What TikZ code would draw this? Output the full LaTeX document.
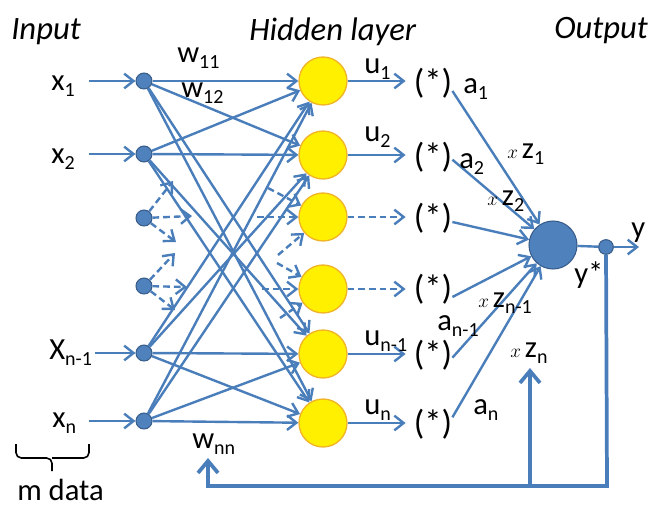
\documentclass[tikz,border=0pt]{standalone}
\usepackage{fontspec}
\setmainfont{Carlito}
\usetikzlibrary{arrows.meta,calc}
\definecolor{lblue}{RGB}{74,126,187}
\definecolor{nblue}{RGB}{79,129,189}
\definecolor{nborder}{RGB}{56,93,138}
\definecolor{yfill}{RGB}{255,240,0}
\definecolor{yborder}{RGB}{240,180,40}
\newcommand\sbs[1]{\raisebox{-5pt}{\fontsize{15}{15}\selectfont #1}}
\newcommand\smx{{\fontsize{14}{14}\selectfont$x$}\hspace{3pt}}
\begin{document}
\begin{tikzpicture}[x=0.75pt,y=-0.75pt,
  conn/.style={draw=lblue, line width=1.8pt, -{Straight Barb[length=7pt,width=11pt]}},
  dconn/.style={conn, dash pattern=on 5pt off 3pt},
  fb/.style={draw=lblue, line width=2.8pt},
  fbarrow/.style={fb, -{Straight Barb[length=9pt,width=15pt]}},
  inode/.style={circle, fill=nblue, draw=nborder, line width=0.8pt, minimum size=12pt, inner sep=0pt},
  hnode/.style={circle, fill=yfill, draw=yborder, line width=1pt, minimum size=36pt, inner sep=0pt},
  onode/.style={circle, fill=nblue, draw=nborder, line width=0.8pt, minimum size=36pt, inner sep=0pt},
  pnode/.style={circle, fill=nblue, draw=nborder, line width=0.8pt, minimum size=11pt, inner sep=0pt},
  lbl/.style={anchor=base west, inner sep=0pt, font=\fontsize{23}{25}\selectfont},
  ttl/.style={lbl, font=\fontsize{24.5}{26}\selectfont\itshape},
  star/.style={inner sep=0pt, font=\fontsize{26}{28}\selectfont}]
\useasboundingbox (0,0) rectangle (651,508);

% titles
\node[ttl] (tin) at (11,39) {Input};
\node[ttl] (thid) at (249,40) {Hidden layer};
\node[ttl] (tout) at (554,38) {Output};

% input nodes
\node[inode] (i1) at (144,81) {};
\node[inode] (i2) at (144,154) {};
\node[inode] (i3) at (144,218) {};
\node[inode] (i4) at (144,286) {};
\node[inode] (i5) at (144,353) {};
\node[inode] (i6) at (144,421) {};

% hidden nodes
\node[hnode] (h1) at (323,81) {};
\node[hnode] (h2) at (323,155) {};
\node[hnode] (h3) at (323,217) {};
\node[hnode] (h4) at (323,289) {};
\node[hnode] (h5) at (323,354) {};
\node[hnode] (h6) at (323,423) {};

% (*) nodes
\node[star] (s1) at (433,83) {(*)};
\node[star] (s2) at (433,157) {(*)};
\node[star] (s3) at (433,218) {(*)};
\node[star] (s4) at (433,289) {(*)};
\node[star] (s5) at (433,355) {(*)};
\node[star] (s6) at (433,424) {(*)};

% output
\node[onode] (o) at (553,245) {};
\node[pnode] (p) at (606,247) {};

% input labels and arrows
\node[lbl] (lx1) at (51,90) {x\sbs{1}};
\node[lbl] (lx2) at (51,163) {x\sbs{2}};
\node[lbl] (lx5) at (49,359) {X\sbs{n-1}};
\node[lbl] (lx6) at (52,427) {x\sbs{n}};
\coordinate (c1) at (89,81);
\coordinate (c2) at (89,154);
\coordinate (c5) at (95,353);
\coordinate (c6) at (89,421);
\draw[conn] (c1) -- (i1);
\draw[conn] (c2) -- (i2);
\draw[conn] (c5) -- (i5);
\draw[conn] (c6) -- (i6);

% full connections
\foreach \a in {1,2,5,6}{
  \foreach \b in {1,2,5,6}{
    \draw[conn] (i\a) -- (h\b);
  }
}

% dashed stubs from inputs 3,4
\coordinate (d31) at (173,181);
\coordinate (d32) at (192,216);
\coordinate (d33) at (176,242);
\coordinate (d41) at (175,253);
\coordinate (d42) at (187,287);
\coordinate (d43) at (175,310);
\draw[dconn] (i3) -- (d31);
\draw[dconn] (i3) -- (d32);
\draw[dconn] (i3) -- (d33);
\draw[dconn] (i4) -- (d41);
\draw[dconn] (i4) -- (d42);
\draw[dconn] (i4) -- (d43);

% dashed stubs into hidden 3,4
\coordinate (e31) at (268,188);
\coordinate (e32) at (257,217);
\coordinate (e33) at (278,255);
\coordinate (e41) at (277,263);
\coordinate (e42) at (262,289);
\coordinate (e43) at (280,318);
\draw[dconn] (e31) -- (h3);
\draw[dconn] (e32) -- (h3);
\draw[dconn] (e33) -- (h3);
\draw[dconn] (e41) -- (h4);
\draw[dconn] (e42) -- (h4);
\draw[dconn] (e43) -- (h4);

% hidden to (*)
\draw[conn, shorten >=6pt] (h1) -- (s1.west |- h1);
\draw[conn, shorten >=6pt] (h2) -- (s2.west |- h2);
\draw[dconn, shorten >=6pt] (h3) -- (s3.west |- h3);
\draw[dconn, shorten >=6pt] (h4) -- (s4.west |- h4);
\draw[conn, shorten >=6pt] (h5) -- (s5.west |- h5);
\draw[conn, shorten >=6pt] (h6) -- (s6.west |- h6);

% (*) to output
\draw[conn] ([yshift=-6pt]s1.east) -- (o);
\draw[conn] ([yshift=-2pt]s2.east) -- (o);
\draw[conn] ([yshift=-3pt]s3.east) -- (o);
\draw[conn] ([yshift=-6pt]s4.east) -- (o);
\draw[conn] ([yshift=-2pt]s5.east) -- (o);
\draw[conn] ([yshift=5pt]s6.east) -- (o);

% output line
\coordinate (yend) at (639,247);
\draw[draw=lblue, line width=1.8pt] (o) -- (p);
\draw[conn] (p) -- (yend);

% feedback
\coordinate (fb1) at (607,486);
\coordinate (fb2) at (208,486);
\coordinate (fbt) at (208,458);
\draw[fbarrow] (p) -- (fb1) -- (fb2) -- (fbt);
\coordinate (zb) at (530,486);
\coordinate (zt) at (530,368);
\draw[fbarrow] (zb) -- (zt);

% labels
\node[lbl] (w11) at (177,62) {w\sbs{11}};
\node[lbl] (w12) at (181,97) {w\sbs{12}};
\node[lbl] (wnn) at (192,448) {w\sbs{nn}};
\node[lbl] (u1) at (364,73) {u\sbs{1}};
\node[lbl] (u2) at (364,141) {u\sbs{2}};
\node[lbl] (u5) at (364,345) {u\sbs{n-1}};
\node[lbl] (u6) at (364,414) {u\sbs{n}};
\node[lbl] (a1) at (463,93) {a\sbs{1}};
\node[lbl] (a2) at (459,168) {a\sbs{2}};
\node[lbl] (a5) at (437,330) {a\sbs{n-1}};
\node[lbl] (a6) at (473,414) {a\sbs{n}};
\node[lbl] (z1) at (507,158) {\smx z\sbs{1}};
\node[lbl] (z2) at (487,205) {\smx z\sbs{2}};
\node[lbl] (z5) at (478,307) {\smx z\sbs{n-1}};
\node[lbl] (z6) at (510,357) {\smx z\sbs{n}};
\node[lbl] (ly) at (631,237) {y};
\node[lbl] (lys) at (574,283) {y*};

% brace
\draw[line width=1.2pt, rounded corners=4pt] (16,444) -- (16,458) -- (52,458) -- (52,471);
\draw[line width=1.2pt, rounded corners=4pt] (89,444) -- (89,458) -- (52,458);
\node[lbl] (md) at (17,500) {m data};
\end{tikzpicture}
\end{document}
